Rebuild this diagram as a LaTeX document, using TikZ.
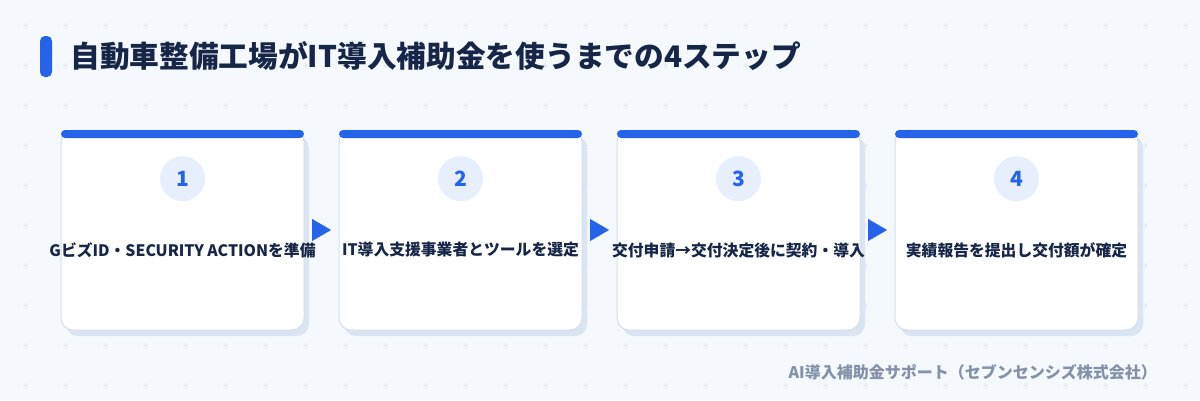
\documentclass[tikz,border=0pt]{standalone}
\usepackage{fontspec}
\setmainfont{Noto Sans CJK JP}
\usepackage{tikz}
\usetikzlibrary{positioning,arrows.meta,shadows}
\definecolor{coloraccent}   {RGB}{37 ,99 ,235}
\definecolor{colortext}     {RGB}{22 ,38 ,72 }
\definecolor{colorback}     {RGB}{245,248,253}
\definecolor{colorplus}     {RGB}{224,230,240}
\definecolor{colorborder}   {RGB}{212,223,238}
\definecolor{colorshadow}   {RGB}{219,228,241}
\definecolor{colorcircle}   {RGB}{231,239,252}
\definecolor{colorfoot}     {RGB}{131,145,171}

\begin{document}
\begin{tikzpicture}[
    x=1pt, y=-1pt,
    node distance = 35pt,
    titlebar/.style={rectangle,fill=coloraccent,rounded corners=5pt,minimum width=12pt,minimum height=41pt,inner sep=0pt},
    titletxt/.style={text=colortext,font={\fontsize{29.7}{36}\selectfont\bfseries},inner sep=0pt},
    card/.style={rectangle,draw=colorborder,line width=1pt,fill=white,rounded corners=12pt,
        minimum width=243pt,minimum height=200pt,inner sep=0pt,outer sep=0pt,
        drop shadow={shadow xshift=5pt,shadow yshift=-6pt,fill=colorshadow,opacity=1}},
    stepbar/.style={fill=coloraccent,rounded corners=4pt},
    stepnum/.style={circle,fill=colorcircle,minimum size=45pt,inner sep=0pt,text=coloraccent,
        font={\fontsize{21}{25}\selectfont\bfseries}},
    steptxt/.style={text=colortext,font={\fontsize{15.8}{20}\selectfont\bfseries},inner sep=0pt,align=center},
    flowarrow/.style={-{Triangle[length=19pt,width=22pt]},draw=coloraccent,fill=coloraccent,
        line width=0.4pt,shorten <=8pt,shorten >=8pt},
    foottxt/.style={text=colorfoot,font={\fontsize{16}{19}\selectfont\bfseries},inner sep=0pt},
]

    % Background and grid of small plus marks
    \fill[colorback] (0,0) rectangle (1200,400);
    \foreach \i in {0,...,29} {
        \foreach \j in {0,...,9} {
            \draw[colorplus,line width=0.8pt] (25+40*\i-2.5,25+40*\j) -- ++(5,0)
                                               (25+40*\i,25+40*\j-2.5) -- ++(0,5);
        }
    }

    % Title
    \node[titlebar] (titlebar) at (46,56.5) {};
    \node[titletxt,right=18pt of titlebar] (title) {自動車整備工場がIT導入補助金を使うまでの4ステップ};

    % Step cards
    \node[card] (card1) at (182.5,230) {};
    \node[card,right=of card1] (card2) {};
    \node[card,right=of card2] (card3) {};
    \node[card,right=of card3] (card4) {};

    % Blue bars on top of cards
    \fill[stepbar] (card1.north west) rectangle ([yshift=-8pt]card1.north east);
    \fill[stepbar] (card2.north west) rectangle ([yshift=-8pt]card2.north east);
    \fill[stepbar] (card3.north west) rectangle ([yshift=-8pt]card3.north east);
    \fill[stepbar] (card4.north west) rectangle ([yshift=-8pt]card4.north east);

    % Numbers
    \node[stepnum,below=26pt of card1.north] (num1) {1};
    \node[stepnum,below=26pt of card2.north] (num2) {2};
    \node[stepnum,below=26pt of card3.north] (num3) {3};
    \node[stepnum,below=26pt of card4.north] (num4) {4};

    % Texts
    \node[steptxt] (txt1) at ([yshift=-20pt]card1.center) {GビズID・SECURITY ACTIONを準備};
    \node[steptxt] (txt2) at ([yshift=-20pt]card2.center) {IT導入支援事業者とツールを選定};
    \node[steptxt] (txt3) at ([yshift=-20pt]card3.center) {交付申請→交付決定後に契約・導入};
    \node[steptxt] (txt4) at ([yshift=-20pt]card4.center) {実績報告を提出し交付額が確定};

    % Arrows
    \draw[flowarrow] (card1.east) -- (card2.west);
    \draw[flowarrow] (card2.east) -- (card3.west);
    \draw[flowarrow] (card3.east) -- (card4.west);

    % Footer
    \node[foottxt,anchor=east] (footer) at (1157,372) {AI導入補助金サポート（セブンセンシズ株式会社）};

\end{tikzpicture}
\end{document}
